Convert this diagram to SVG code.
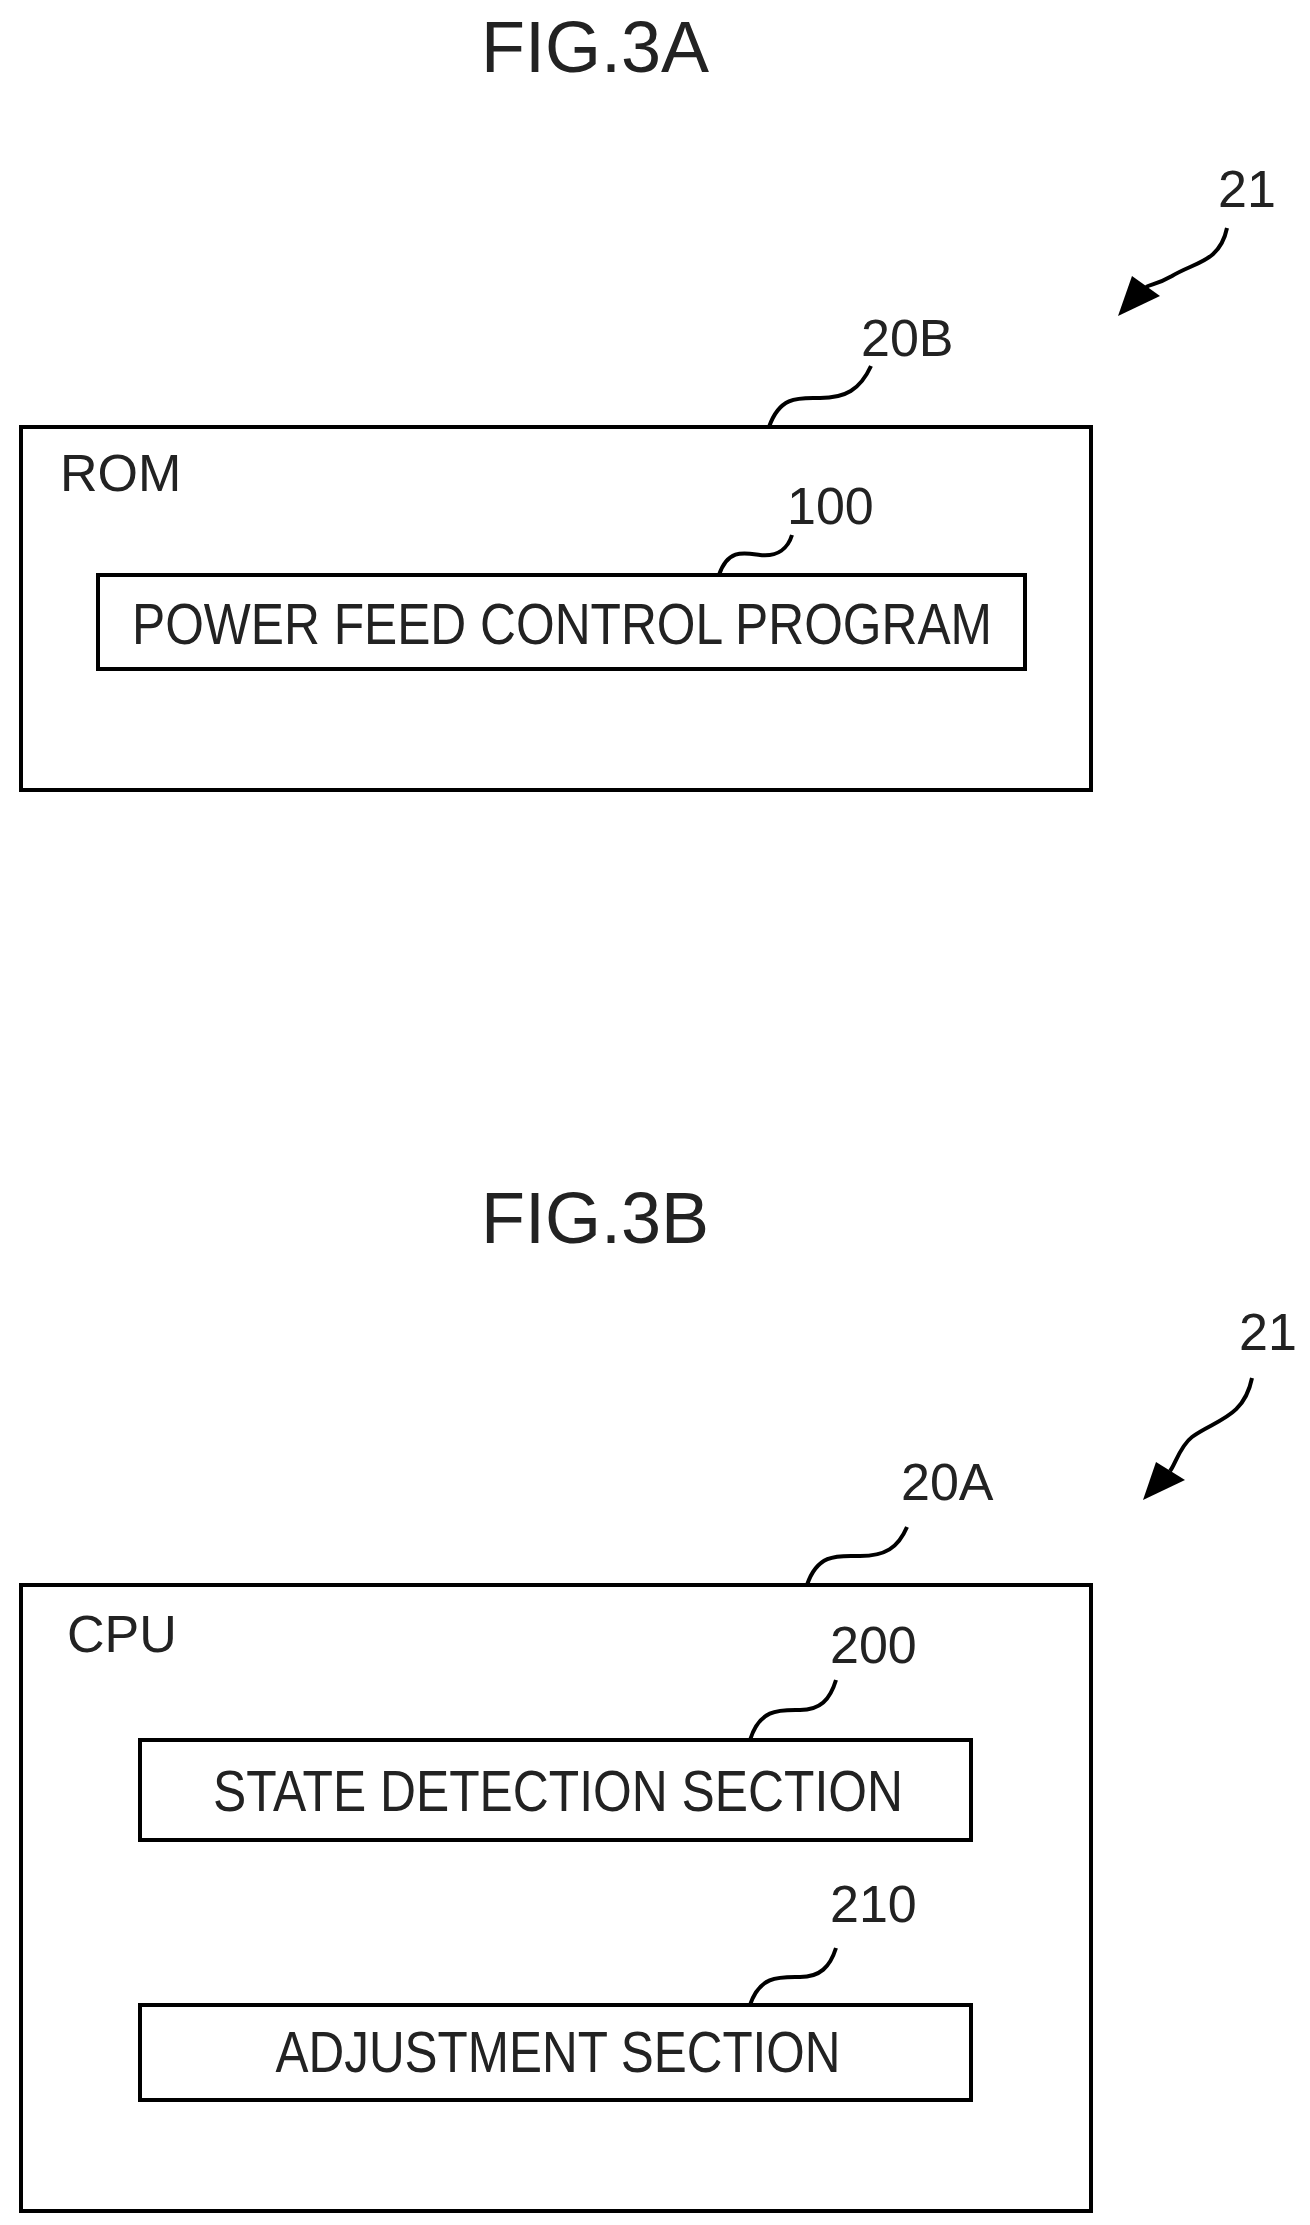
<svg xmlns="http://www.w3.org/2000/svg" width="1310" height="2225" viewBox="0 0 1310 2225">
<style>
text{font-family:"Liberation Sans",Arial,sans-serif;fill:#222}
.box{fill:#fff;stroke:#000;stroke-width:4}
.lead{fill:none;stroke:#000;stroke-width:4}
.head{fill:#000}
.big{font-size:72px}
.lbl{font-size:52px}
.in{font-size:58px}
</style>
<rect width="1310" height="2225" fill="#fff"/>
<text class="big" x="595" y="72" text-anchor="middle">FIG.3A</text>
<text class="big" x="595" y="1243" text-anchor="middle">FIG.3B</text>
<g id="rom">
<rect class="box" x="21" y="427" width="1070" height="363"/>
<text class="lbl" x="60" y="491">ROM</text>
<text class="lbl" x="861" y="356">20B</text>
</g>
<g id="program">
<rect class="box" x="98" y="575" width="927" height="94"/>
<text class="in" x="562" y="644" text-anchor="middle" textLength="860" lengthAdjust="spacingAndGlyphs">POWER FEED CONTROL PROGRAM</text>
<text class="lbl" x="787" y="524">100</text>
</g>
<g id="cpu">
<rect class="box" x="21" y="1585" width="1070" height="626"/>
<text class="lbl" x="67" y="1652">CPU</text>
<text class="lbl" x="901" y="1500">20A</text>
</g>
<g id="state">
<rect class="box" x="140" y="1740" width="831" height="100"/>
<text class="in" x="558" y="1811" text-anchor="middle" textLength="690" lengthAdjust="spacingAndGlyphs">STATE DETECTION SECTION</text>
<text class="lbl" x="830" y="1663">200</text>
</g>
<g id="adjust">
<rect class="box" x="140" y="2005" width="831" height="95"/>
<text class="in" x="558" y="2072" text-anchor="middle" textLength="565" lengthAdjust="spacingAndGlyphs">ADJUSTMENT SECTION</text>
<text class="lbl" x="830" y="1922">210</text>
</g>
<g id="ref21">
<text class="lbl" x="1218" y="207">21</text>
<text class="lbl" x="1239" y="1350">21</text>
</g>
<g id="connectors">
<path class="lead" d="M769,427 C780,395 800,398 820,398 C845,398 860,390 871,366"/>
<path class="lead" d="M719,575 C728,548 745,553 760,555 C778,557 788,548 792,535"/>
<path class="lead" d="M807,1585 C818,1552 840,1556 860,1556 C885,1556 898,1548 907,1527"/>
<path class="lead" d="M750,1740 C760,1708 780,1710 800,1710 C820,1710 830,1700 836,1680"/>
<path class="lead" d="M750,2005 C760,1975 780,1977 800,1977 C820,1977 830,1967 836,1948"/>
<path class="lead" d="M1227,228 C1220,262 1195,262 1172,276 C1158,284 1152,284 1146,287"/>
<polygon class="head" points="1118,316 1132,276 1160,296"/>
<path class="lead" d="M1252,1378 C1244,1418 1215,1420 1192,1437 C1180,1446 1175,1465 1170,1471"/>
<polygon class="head" points="1143,1500 1156,1462 1185,1480"/>
</g>
</svg>
